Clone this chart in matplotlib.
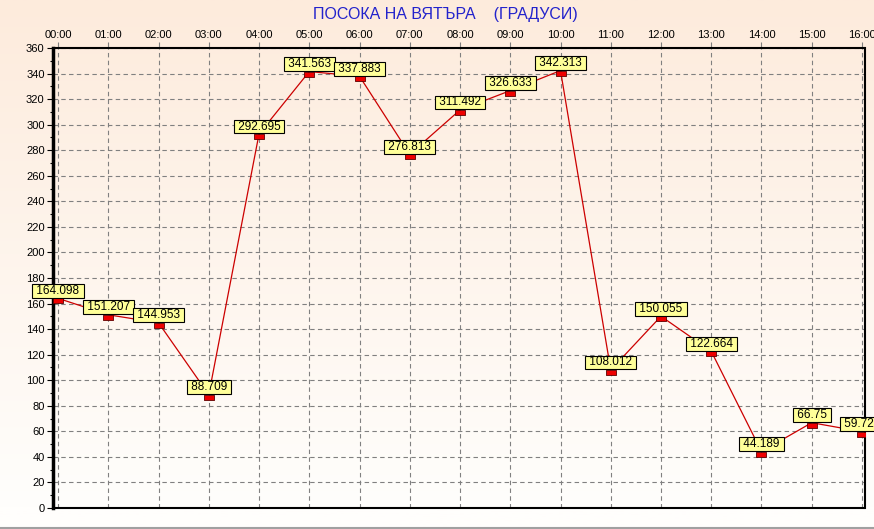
import numpy as np
import matplotlib
matplotlib.use("Agg")
import matplotlib.pyplot as plt
from matplotlib.ticker import MultipleLocator

plt.rcParams['font.family'] = ['Liberation Sans', 'DejaVu Sans']

hours = ["00:00", "01:00", "02:00", "03:00", "04:00", "05:00", "06:00", "07:00", "08:00",
         "09:00", "10:00", "11:00", "12:00", "13:00", "14:00", "15:00", "16:00"]
values = [164.098, 151.207, 144.953, 88.709, 292.695, 341.563, 337.883, 276.813, 311.492,
          326.633, 342.313, 108.012, 150.055, 122.664, 44.189, 66.75, 59.729]
labels = ["164.098", "151.207", "144.953", "88.709", "292.695", "341.563", "337.883", "276.813",
          "311.492", "326.633", "342.313", "108.012", "150.055", "122.664", "44.189", "66.75", "59.729"]

W, H = 874, 529
fig = plt.figure(figsize=(W / 100, H / 100), dpi=100)

# background gradient, peach at top fading to white near the bottom
bg = fig.add_axes([0, 0, 1, 1], zorder=-10)
grad = np.linspace(0, 1, 256)
top = np.array([253, 235, 220]) / 255
bot = np.array([255, 254, 252]) / 255
t = np.clip(grad / (508 / 529), 0, 1)
img = (top + (bot - top) * t[:, None]).reshape(256, 1, 3)
bg.imshow(img, aspect='auto', extent=[0, 1, 0, 1], origin='upper')
bg.set_xlim(0, 1)
bg.set_ylim(0, 1)
bg.axis('off')
bg.plot([0, 1], [1 - 527.5 / H, 1 - 527.5 / H], color='#a0a0a0', lw=1.5)

ax = fig.add_axes([53 / W, 1 - 508 / H, (865 - 53) / W, (508 - 48) / H])
ax.patch.set_alpha(0)

x = np.arange(len(values))
ax.plot(x, values, color='#cc0000', lw=0.9, zorder=3)
# small red block hanging just under each point
box = [(-1, 0), (1, 0), (1, -1), (-1, -1), (-1, 0)]
ax.plot(x, values, linestyle='none', marker=box, markersize=6.8, markerfacecolor='#ee0000',
        markeredgecolor='#600000', markeredgewidth=0.6, zorder=5)

for xi, v, s in zip(x, values, labels):
    ax.annotate(" " + s + " ", (xi, v), xytext=(0, 1.5), textcoords='offset pixels',
                ha='center', va='bottom', fontsize=8.5, color='black', zorder=6,
                annotation_clip=False,
                bbox=dict(boxstyle='square,pad=0.08', fc='#ffff99', ec='black', lw=0.8))

ax.set_xlim(-0.1, 16.06)
ax.set_ylim(0, 360)
ax.set_xticks(x)
ax.set_xticklabels(hours)
ax.xaxis.tick_top()
ax.yaxis.set_major_locator(MultipleLocator(20))
ax.yaxis.set_minor_locator(MultipleLocator(10))
ax.tick_params(axis='x', length=4, width=0.8, color='#808080', labelsize=8, pad=2)
ax.tick_params(axis='y', which='major', length=4, width=0.8, labelsize=8, pad=2)
ax.tick_params(axis='y', which='minor', length=2, width=0.8)

ax.grid(True, color='#808080', linestyle=(0, (4, 3)), lw=0.8)
ax.set_axisbelow(True)

ax.spines['left'].set_linewidth(2.5)
ax.spines['right'].set_linewidth(1.5)
ax.spines['top'].set_linewidth(1.5)
ax.spines['top'].set_linestyle((0, (4, 1)))
ax.spines['bottom'].set_linewidth(1.5)
ax.spines['bottom'].set_linestyle((0, (4, 1)))

fig.text(445 / W, 1 - 15 / H, "ПОСОКА НА ВЯТЪРА    (ГРАДУСИ)", ha='center', va='center',
         fontsize=11.5, color='#2323cc')

fig.savefig("out.png", dpi=100)
